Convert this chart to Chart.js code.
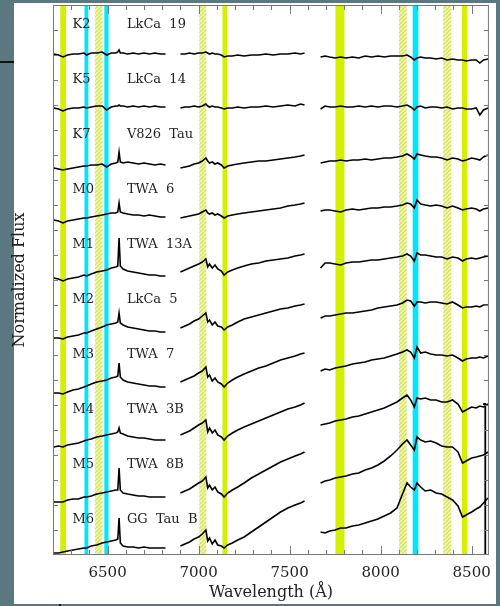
<!DOCTYPE html>
<html><head><meta charset="utf-8">
<script src="https://cdn.jsdelivr.net/npm/chart.js@4.4.1/dist/chart.umd.min.js"></script>
<style>html,body{margin:0;padding:0;background:#5b7880;}canvas{display:block;}</style>
</head><body>
<canvas id="c" width="500" height="606"></canvas>
<script>
// Wavelength grids (Angstrom) of the three observed segments
const waveSeg1 = [6205,6230,6255,6280,6310,6340,6370,6385,6410,6440,6470,6495,6520,6545,6556,6563,6570,6585,6610,6640,6670,6700,6730,6760,6790,6818];
const waveSeg2 = [6900,6925,6950,6975,7000,7020,7040,7050,7060,7075,7090,7105,7125,7140,7160,7185,7215,7250,7290,7330,7370,7410,7450,7490,7530,7560,7582];
const waveSeg3 = [7670,7695,7720,7750,7780,7810,7845,7880,7915,7950,7985,8020,8055,8090,8120,8145,8165,8185,8200,8220,8245,8275,8305,8335,8365,8395,8425,8450,8470,8500,8525,8545,8565,8590];

// tick values
const xTickStart = 6200, xTickEnd = 8500, xTickStep = 100, xLabelStep = 500;
const yTickStep = 0.5;

const spectralTypes = ['K2','K5','K7','M0','M1','M2','M3','M4','M5','M6'];
const starNames = ['LkCa  19','LkCa  14','V826  Tau','TWA  6','TWA  13A','LkCa  5','TWA  7','TWA  3B','TWA  8B','GG  Tau  B'];
const labelLevels = [10.6,9.5,8.4,7.3,6.2,5.1,4.0,2.9,1.8,0.7];

// normalized flux + vertical offset, seg1 | seg2 | seg3
const fluxK2 = [
 10.02,10.00,9.96,10.00,10.02,10.02,10.04,10.00,10.04,10.04,10.06,10.00,10.04,10.04,10.06,10.10,10.04,10.04,10.02,10.04,10.02,10.04,10.02,10.04,10.02,10.02,
 10.02,10.02,10.04,10.02,10.04,10.04,10.06,10.04,10.02,10.04,10.02,10.02,10.00,9.96,9.98,9.98,10.00,9.98,10.00,10.00,10.02,10.00,10.02,10.02,10.04,10.02,10.04,
 9.96,9.98,9.96,9.94,9.96,9.94,9.96,9.94,9.98,9.96,9.98,9.96,9.98,9.98,9.98,10.00,9.96,9.90,9.94,9.96,9.94,9.94,9.92,9.94,9.90,9.92,9.90,9.90,9.88,9.90,9.90,9.84,9.90,9.92];
const fluxK5 = [
 8.94,8.92,8.88,8.92,8.94,8.94,8.96,8.94,8.96,8.98,8.98,8.90,8.96,8.98,8.98,9.00,8.98,8.98,8.96,8.98,8.96,8.98,8.96,8.98,8.96,8.96,
 8.94,8.96,8.96,8.98,8.96,8.98,9.02,8.98,8.96,8.98,8.96,8.96,8.94,8.92,8.94,8.94,8.96,8.94,8.96,8.96,8.98,8.96,8.98,9.00,8.98,9.02,9.00,
 8.92,8.98,8.96,8.96,8.98,8.96,8.96,8.98,8.96,8.98,8.96,8.98,8.98,8.96,8.98,9.00,8.96,8.90,8.96,8.98,8.94,8.96,8.96,8.94,8.96,8.92,8.94,8.94,8.92,8.92,8.94,8.80,8.90,8.94];
const fluxK7 = [
 7.74,7.72,7.70,7.72,7.74,7.76,7.78,7.78,7.80,7.80,7.82,7.76,7.82,7.84,7.86,8.06,7.86,7.84,7.86,7.84,7.82,7.84,7.82,7.80,7.82,7.80,
 7.74,7.76,7.78,7.82,7.84,7.88,7.94,7.88,7.84,7.86,7.82,7.84,7.80,7.74,7.78,7.80,7.82,7.84,7.86,7.88,7.88,7.90,7.92,7.94,7.96,7.98,8.00,
 7.84,7.86,7.88,7.88,7.90,7.88,7.90,7.90,7.92,7.90,7.92,7.94,7.94,7.96,7.98,8.02,7.98,7.92,8.02,8.00,7.98,7.96,7.96,7.94,7.90,7.94,7.92,7.88,7.90,7.94,7.92,7.90,7.96,8.00];
const fluxM0 = [
 6.70,6.68,6.64,6.68,6.70,6.72,6.74,6.74,6.76,6.78,6.80,6.82,6.84,6.84,6.86,7.04,6.86,6.84,6.82,6.80,6.80,6.78,6.80,6.78,6.76,6.76,
 6.74,6.76,6.78,6.80,6.82,6.86,6.90,6.84,6.82,6.84,6.80,6.82,6.78,6.74,6.78,6.80,6.82,6.84,6.86,6.88,6.90,6.92,6.94,6.98,7.00,7.02,7.04,
 6.88,6.90,6.90,6.88,6.86,6.90,6.92,6.90,6.92,6.94,6.94,6.96,6.96,6.98,7.00,7.04,7.02,6.94,7.10,7.02,7.00,6.98,7.00,6.98,6.94,6.98,6.94,6.90,6.92,6.94,6.92,6.88,6.92,6.94];
const fluxM1 = [
 5.54,5.52,5.48,5.52,5.54,5.56,5.60,5.58,5.62,5.66,5.68,5.70,5.74,5.76,5.78,6.34,5.78,5.72,5.68,5.66,5.64,5.62,5.60,5.60,5.58,5.58,
 5.66,5.70,5.74,5.78,5.82,5.86,5.92,5.76,5.82,5.74,5.80,5.72,5.68,5.60,5.66,5.70,5.74,5.78,5.82,5.84,5.88,5.90,5.92,5.94,5.98,6.00,6.02,
 5.74,5.84,5.84,5.82,5.80,5.84,5.86,5.86,5.88,5.90,5.90,5.92,5.94,5.96,5.98,6.02,5.98,5.88,6.04,6.00,6.00,5.98,5.96,5.96,5.92,5.96,5.94,5.88,5.92,5.94,5.92,5.94,5.96,5.98];
const fluxM2 = [
 4.34,4.34,4.32,4.36,4.38,4.40,4.44,4.44,4.48,4.52,4.56,4.60,4.62,4.64,4.66,4.84,4.64,4.60,4.56,4.54,4.52,4.50,4.48,4.48,4.46,4.46,
 4.54,4.58,4.62,4.68,4.72,4.78,4.84,4.66,4.70,4.60,4.66,4.58,4.56,4.50,4.56,4.60,4.66,4.72,4.76,4.80,4.84,4.88,4.92,4.94,4.98,5.00,5.02,
 4.74,4.78,4.78,4.80,4.82,4.84,4.84,4.86,4.88,4.90,4.94,4.96,4.98,5.00,5.04,5.10,5.08,4.98,5.06,5.06,5.04,5.06,5.06,5.04,5.02,5.06,5.00,4.94,4.96,4.96,4.98,4.96,5.00,5.00];
const fluxM3 = [
 3.24,3.24,3.22,3.26,3.30,3.32,3.36,3.38,3.42,3.46,3.48,3.50,3.54,3.56,3.58,3.84,3.56,3.50,3.46,3.44,3.42,3.40,3.38,3.38,3.36,3.36,
 3.46,3.50,3.54,3.58,3.64,3.68,3.76,3.56,3.60,3.48,3.54,3.46,3.42,3.36,3.44,3.50,3.56,3.62,3.68,3.74,3.78,3.84,3.90,3.94,3.98,4.02,4.04,
 3.68,3.72,3.70,3.74,3.76,3.78,3.82,3.84,3.86,3.90,3.92,3.94,3.98,4.02,4.06,4.10,4.06,3.94,4.16,4.04,4.06,4.02,4.00,4.00,3.98,4.00,3.94,3.88,3.92,3.94,3.94,3.96,3.94,3.98];
const fluxM4 = [
 2.16,2.18,2.16,2.20,2.22,2.24,2.28,2.30,2.32,2.36,2.38,2.40,2.42,2.44,2.46,2.54,2.44,2.42,2.38,2.36,2.34,2.34,2.32,2.30,2.30,2.30,
 2.40,2.44,2.48,2.54,2.60,2.64,2.70,2.46,2.54,2.44,2.50,2.40,2.36,2.30,2.38,2.44,2.50,2.56,2.62,2.68,2.74,2.80,2.86,2.92,2.96,3.00,3.04,
 2.60,2.62,2.64,2.68,2.70,2.72,2.76,2.78,2.82,2.86,2.90,2.94,3.00,3.06,3.14,3.20,3.10,2.96,3.14,3.12,3.14,3.10,3.10,3.06,3.06,3.10,3.02,2.86,2.90,2.96,2.94,2.98,2.96,3.02];
const fluxM5 = [
 1.06,1.06,1.06,1.10,1.12,1.12,1.16,1.16,1.18,1.22,1.24,1.26,1.28,1.30,1.30,1.74,1.30,1.24,1.22,1.20,1.18,1.18,1.16,1.16,1.16,1.16,
 1.24,1.28,1.32,1.38,1.44,1.48,1.56,1.34,1.40,1.30,1.36,1.26,1.22,1.16,1.24,1.30,1.36,1.44,1.54,1.62,1.70,1.78,1.86,1.92,1.98,2.02,2.06,
 1.44,1.48,1.50,1.54,1.56,1.58,1.62,1.64,1.70,1.74,1.80,1.88,1.98,2.10,2.22,2.30,2.20,2.10,2.36,2.30,2.26,2.28,2.24,2.18,2.16,2.16,2.06,1.84,1.88,1.94,1.96,1.98,2.00,2.06];
const fluxM6 = [
 0.04,0.04,0.06,0.08,0.10,0.12,0.14,0.14,0.18,0.20,0.24,0.26,0.28,0.30,0.32,0.74,0.24,0.18,0.16,0.16,0.14,0.16,0.14,0.14,0.14,0.14,
 0.18,0.22,0.26,0.32,0.36,0.42,0.50,0.28,0.34,0.22,0.30,0.20,0.18,0.14,0.20,0.24,0.30,0.36,0.46,0.56,0.66,0.76,0.86,0.94,1.00,1.04,1.08,
 0.46,0.44,0.48,0.50,0.54,0.54,0.58,0.60,0.64,0.68,0.72,0.78,0.84,0.94,1.22,1.44,1.36,1.30,1.44,1.36,1.28,1.30,1.24,1.22,1.16,1.10,0.98,0.76,0.80,0.86,0.92,0.96,1.04,1.14];

// scale bar at the right edge
const barWave = [8563,8575,8575];
const barFlux = [3.02,3.02,0];

// highlighted wavelength windows (Angstrom)
const solidBands = [[6240,6272],[7131,7157],[7752,7801],[8447,8475]];
const cyanBands  = [[6373,6394],[6482,6505],[8176,8207]];
const hatchBands = [[6431,6471],[7004,7042],[8101,8143],[8344,8388]];

const allFlux = [fluxK2,fluxK5,fluxK7,fluxM0,fluxM1,fluxM2,fluxM3,fluxM4,fluxM5,fluxM6];

function buildPoints(vals){
  const pts=[]; let i=0;
  [waveSeg1,waveSeg2,waveSeg3].forEach((seg,si)=>{
    if(si>0) pts.push({x:seg[0]-1,y:null});
    seg.forEach(w=>{pts.push({x:w,y:vals[i++]});});
  });
  return pts;
}

const datasets = allFlux.map((f,k)=>({
  label: spectralTypes[k], data: buildPoints(f),
  borderColor:'#000', borderWidth:1.6, pointRadius:0, tension:0, spanGaps:false
}));
datasets.push({label:'bar', data: barWave.map((w,i)=>({x:w,y:barFlux[i]})), borderColor:'#000', borderWidth:1.8, pointRadius:0});

const SERIF = "'DejaVu Serif', serif";

function hatchPattern(ctx){
  const c=document.createElement('canvas'); c.width=4; c.height=4;
  const g=c.getContext('2d');
  g.fillStyle='#f3f8c4'; g.fillRect(0,0,4,4);
  g.strokeStyle='#d6e64a'; g.lineWidth=1.3;
  g.beginPath(); g.moveTo(-1,5); g.lineTo(5,-1); g.stroke();
  g.beginPath(); g.moveTo(3,5); g.lineTo(5,3); g.stroke();
  g.beginPath(); g.moveTo(-1,1); g.lineTo(1,-1); g.stroke();
  return ctx.createPattern(c,'repeat');
}

const deco = {
  id:'deco',
  beforeDraw(chart){
    const ctx=chart.ctx; ctx.save();
    ctx.fillStyle='#5b7880'; ctx.fillRect(0,0,chart.width,chart.height);
    ctx.fillStyle='#ffffff'; ctx.fillRect(14,3,482,601);
    ctx.fillStyle='#111'; ctx.fillRect(0,61,14,2); ctx.fillRect(59,604,2,2);
    ctx.restore();
  },
  beforeDatasetsDraw(chart){
    const {ctx, chartArea:a, scales:{x}} = chart;
    ctx.save();
    ctx.beginPath(); ctx.rect(a.left,a.top,a.right-a.left,a.bottom-a.top); ctx.clip();
    const band=(b,style)=>{const x0=x.getPixelForValue(b[0]), x1=x.getPixelForValue(b[1]); ctx.fillStyle=style; ctx.fillRect(x0,a.top,x1-x0,a.bottom-a.top);};
    const pat=hatchPattern(ctx);
    hatchBands.forEach(b=>band(b,pat));
    solidBands.forEach(b=>band(b,'#d4f000'));
    cyanBands.forEach(b=>band(b,'#00e6ff'));
    ctx.restore();
  },
  afterDatasetsDraw(chart){
    const {ctx, chartArea:a, scales:{x,y}} = chart;
    ctx.save();
    ctx.strokeStyle='#777'; ctx.lineWidth=1;
    ctx.strokeRect(a.left+0.5,a.top+0.5,a.right-a.left-1,a.bottom-a.top-1);
    ctx.beginPath();
    x.ticks.forEach(t=>{
      const px=Math.round(x.getPixelForValue(t.value))+0.5;
      const L = t.value%xLabelStep===0 ? 9 : 5;
      ctx.moveTo(px,a.bottom); ctx.lineTo(px,a.bottom-L);
      ctx.moveTo(px,a.top); ctx.lineTo(px,a.top+L);
    });
    y.ticks.forEach(t=>{
      if (t.value<=y.min || t.value>=y.max) return;
      const py=Math.round(y.getPixelForValue(t.value))+0.5;
      ctx.moveTo(a.left,py); ctx.lineTo(a.left+5,py);
      ctx.moveTo(a.right,py); ctx.lineTo(a.right-5,py);
    });
    ctx.stroke();
    ctx.fillStyle='#222'; ctx.font="13px "+SERIF; ctx.textBaseline='middle'; ctx.textAlign='left';
    const xt=x.getPixelForValue(6307), xn=x.getPixelForValue(6606);
    labelLevels.forEach((lv,k)=>{
      const py=y.getPixelForValue(lv);
      ctx.fillText(spectralTypes[k],xt,py);
      ctx.fillText(starNames[k],xn,py);
    });
    ctx.restore();
  }
};

new Chart(document.getElementById('c'),{
  type:'line',
  data:{datasets},
  options:{
    responsive:false, animation:false, devicePixelRatio:1,
    layout:{padding:{left:0,right:7,top:5,bottom:0}},
    plugins:{legend:{display:false},tooltip:{enabled:false}},
    scales:{
      x:{type:'linear',min:6200,max:8595,
        grid:{display:false,drawTicks:false}, border:{display:false},
        afterBuildTicks(s){const t=[]; for(let v=xTickStart; v<=xTickEnd; v+=xTickStep) t.push({value:v}); s.ticks=t;},
        ticks:{autoSkip:false,maxRotation:0,minRotation:0,padding:9,color:'#222',font:{family:SERIF,size:15},
          callback:v=> (v%xLabelStep===0 ? String(v) : '')},
        title:{display:true,text:'Wavelength (Å)',color:'#222',font:{family:SERIF,size:16},padding:{top:0,bottom:4}},
        afterFit(s){s.height=51;}
      },
      y:{type:'linear',min:0,max:11,
        grid:{display:false,drawTicks:false}, border:{display:false},
        afterBuildTicks(s){const t=[]; for(let v=0; v<=11+1e-9; v+=yTickStep) t.push({value:Math.round(v*10)/10}); s.ticks=t;},
        ticks:{display:false},
        title:{display:true,text:'Normalized Flux',color:'#222',font:{family:SERIF,size:16},padding:{top:10,bottom:0}},
        afterFit(s){s.width=53;}
      }
    }
  },
  plugins:[deco]
});
</script>
</body></html>
